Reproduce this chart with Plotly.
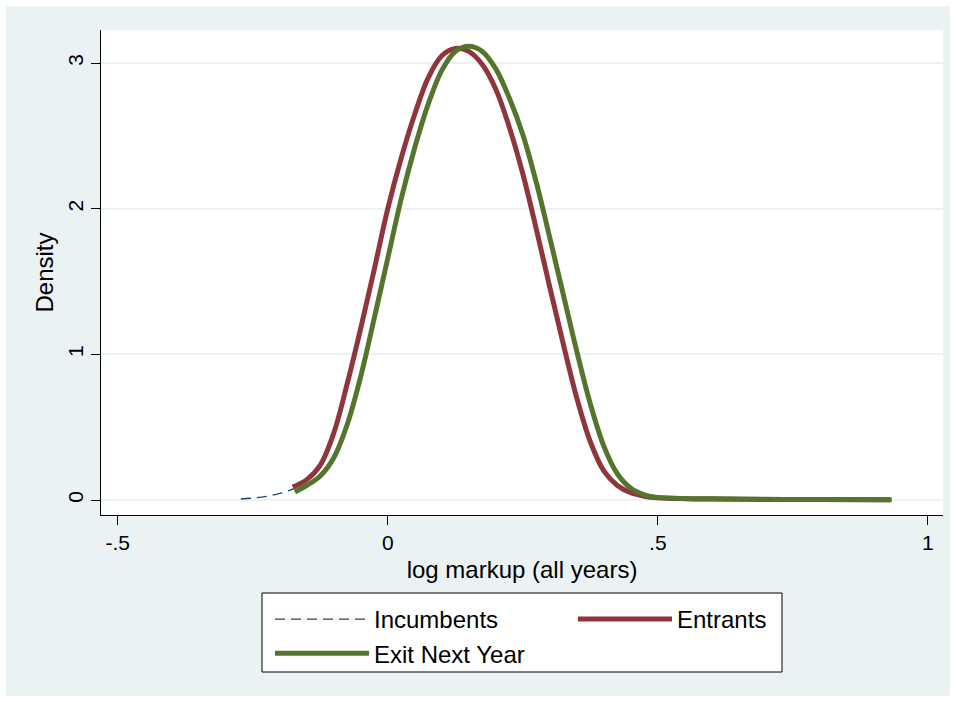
import plotly.graph_objects as go

# ---- data ----
inc_x = [-0.272, -0.250, -0.225, -0.200, -0.176, -0.150, -0.125, -0.100, -0.075, -0.050, -0.025,
         0.000, 0.025, 0.050, 0.075, 0.100, 0.125, 0.150, 0.175, 0.200, 0.225, 0.250, 0.275, 0.300,
         0.325, 0.350, 0.375, 0.400, 0.425, 0.450, 0.475, 0.500, 0.550, 0.600, 0.700, 0.800, 0.930]
inc_y = [0.007, 0.013, 0.025, 0.045, 0.075, 0.135, 0.235, 0.450, 0.790, 1.170, 1.570,
         1.990, 2.340, 2.640, 2.890, 3.045, 3.100, 3.085, 3.000, 2.830, 2.575, 2.255, 1.875, 1.475,
         1.085, 0.715, 0.405, 0.205, 0.100, 0.050, 0.026, 0.015, 0.009, 0.007, 0.004, 0.003, 0.002]

ent_x = [-0.176, -0.150, -0.125, -0.100, -0.075, -0.050, -0.025, 0.000, 0.025, 0.050, 0.075,
         0.100, 0.125, 0.150, 0.175, 0.200, 0.225, 0.250, 0.275, 0.300, 0.325, 0.350, 0.375,
         0.400, 0.425, 0.450, 0.475, 0.500, 0.550, 0.600, 0.700, 0.800, 0.930]
ent_y = [0.089, 0.140, 0.240, 0.460, 0.800, 1.180, 1.585, 2.000, 2.350, 2.650, 2.900,
         3.050, 3.100, 3.080, 2.990, 2.820, 2.560, 2.240, 1.860, 1.460, 1.070, 0.700, 0.400,
         0.200, 0.100, 0.050, 0.026, 0.015, 0.009, 0.007, 0.004, 0.003, 0.002]

exit_x = [-0.172, -0.150, -0.125, -0.100, -0.075, -0.050, -0.025, 0.000, 0.025, 0.050, 0.075,
          0.100, 0.125, 0.150, 0.175, 0.200, 0.225, 0.250, 0.275, 0.300, 0.325, 0.350, 0.375,
          0.400, 0.425, 0.450, 0.475, 0.500, 0.550, 0.600, 0.700, 0.800, 0.933]
exit_y = [0.055, 0.100, 0.165, 0.290, 0.520, 0.850, 1.250, 1.660, 2.070, 2.420, 2.720,
          2.950, 3.080, 3.115, 3.080, 2.960, 2.760, 2.510, 2.180, 1.800, 1.410, 1.020, 0.660,
          0.370, 0.180, 0.080, 0.036, 0.018, 0.010, 0.008, 0.005, 0.003, 0.002]

x_tickvals = [-0.5, 0, 0.5, 1]
x_ticktext = ["-.5", "0", ".5", "1"]
y_tickvals = [0, 1, 2, 3]
y_ticktext = ["0", "1", "2", "3"]

names = ["Incumbents", "Entrants", "Exit Next Year"]

# ---- styling ----
W, H = 956, 702
ML, MR, MT, MB = 101, 13, 30, 187
BG = "#eaf2f3"
FONT = "Liberation Sans, Arial, Helvetica, sans-serif"
PW = W - ML - MR
PH = H - MT - MB


def px_x(p):
    return (p - ML) / PW


def px_y(p):
    return (H - MB - p) / PH


fig = go.Figure()
fig.add_trace(go.Scatter(x=inc_x, y=inc_y, mode="lines", name=names[0],
                         line=dict(color="#1a476f", width=1.3, dash="10px,6px",
                                   shape="spline", smoothing=1.0)))
fig.add_trace(go.Scatter(x=ent_x, y=ent_y, mode="lines", name=names[1],
                         line=dict(color="#90353b", width=5, shape="spline", smoothing=1.0)))
fig.add_trace(go.Scatter(x=exit_x, y=exit_y, mode="lines", name=names[2],
                         line=dict(color="#55752f", width=5, shape="spline", smoothing=1.0)))

shapes = []
# legend frame
shapes.append(dict(type="rect", xref="paper", yref="paper",
                   x0=px_x(262), x1=px_x(782), y0=px_y(593), y1=px_y(672),
                   fillcolor="white", line=dict(color="black", width=1), layer="above"))
# white outer frame
for (a, b, c, d) in [(0, 6, 0, H), (W - 6, W, 0, H), (0, W, 0, 6), (0, W, H - 6, H)]:
    shapes.append(dict(type="rect", xref="paper", yref="paper",
                       x0=px_x(a), x1=px_x(b), y0=px_y(c), y1=px_y(d),
                       fillcolor="white", line=dict(width=0), layer="above"))

fig.update_layout(
    width=W, height=H,
    margin=dict(l=ML, r=MR, t=MT, b=MB, autoexpand=False),
    paper_bgcolor=BG, plot_bgcolor="white",
    font=dict(family=FONT, color="black", size=21),
    shapes=shapes,
    showlegend=True,
    legend=dict(orientation="h", x=px_x(270), xanchor="left", y=px_y(597), yanchor="top",
                bgcolor="rgba(0,0,0,0)", borderwidth=0,
                font=dict(family=FONT, size=24, color="black"),
                itemwidth=94, entrywidth=194, entrywidthmode="pixels",
                traceorder="normal", itemclick=False),
    xaxis=dict(range=[-0.531, 1.028], tickvals=x_tickvals, ticktext=x_ticktext,
               showgrid=False, zeroline=False, showline=True, linecolor="black", linewidth=1,
               ticks="outside", ticklen=9, tickwidth=1, tickcolor="black",
               tickfont=dict(family=FONT, size=21, color="black"),
               title=dict(text="log markup (all years)", standoff=7,
                          font=dict(family=FONT, size=24, color="black"))),
    yaxis=dict(range=[-0.103, 3.227], tickvals=y_tickvals, ticktext=y_ticktext,
               showgrid=True, gridcolor=BG, gridwidth=1.5,
               zeroline=True, zerolinecolor=BG, zerolinewidth=1.5,
               showline=True, linecolor="black", linewidth=1,
               ticks="outside", ticklen=9, tickwidth=1, tickcolor="black", tickangle=-90,
               tickfont=dict(family=FONT, size=21, color="black"),
               title=dict(text="Density", standoff=3,
                          font=dict(family=FONT, size=24, color="black"))),
)

fig.write_html("out.html")
